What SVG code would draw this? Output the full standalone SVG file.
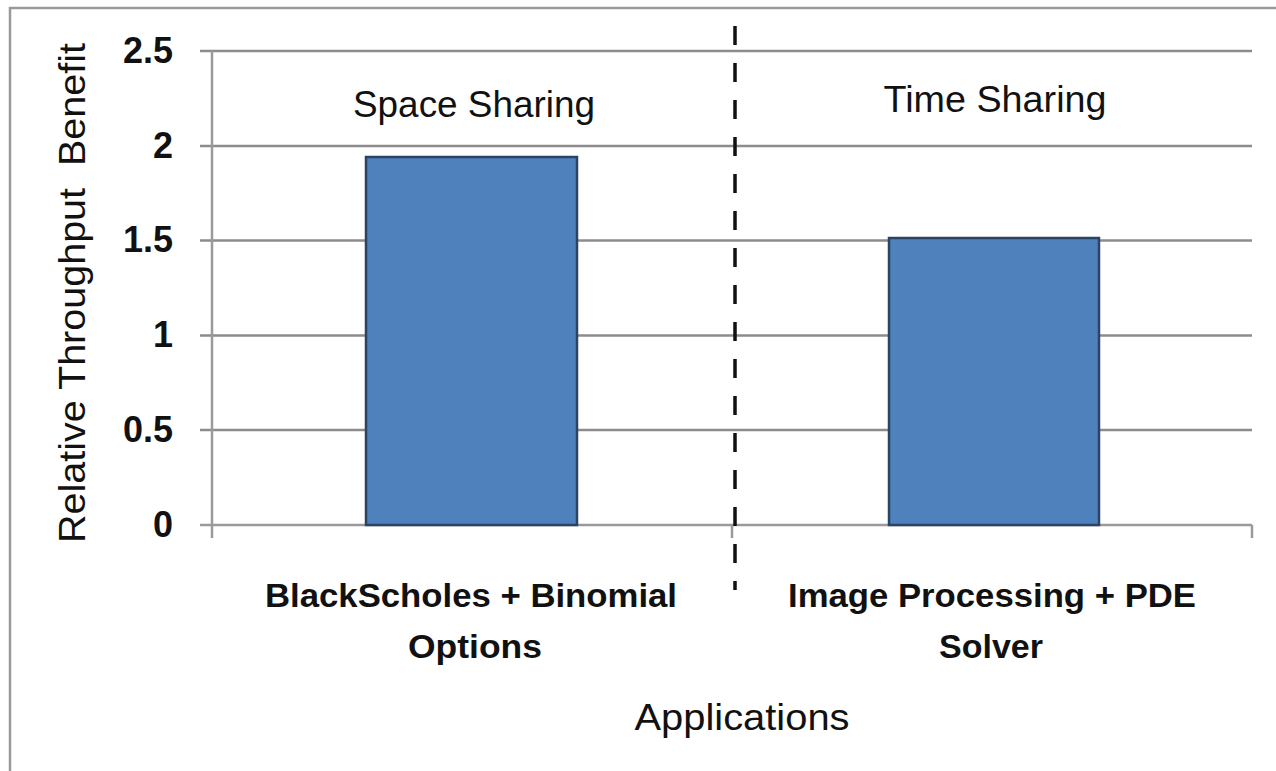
<svg xmlns="http://www.w3.org/2000/svg" width="1276" height="771" viewBox="0 0 1276 771">
<style>
.grid{stroke:#8c8c8c;stroke-width:2.5;fill:none}
.axis{stroke:#9a9a9a;stroke-width:2.5;fill:none}
.bar{fill:#4f81bd;stroke:#2b4466;stroke-width:2.5}
.tick{font-family:"Liberation Sans",Arial,sans-serif;font-weight:bold;font-size:36px;fill:#111;text-anchor:end}
.cat{font-family:"Liberation Sans",Arial,sans-serif;font-weight:bold;font-size:34px;fill:#111;text-anchor:middle}
.lbl{font-family:"Liberation Sans",Arial,sans-serif;font-size:36px;fill:#111;text-anchor:middle}
</style>
<rect width="1276" height="771" fill="#ffffff"/>
<rect x="10" y="8" width="1290" height="800" fill="none" stroke="#9a9a9a" stroke-width="2.5"/>
<g id="gridlines">
<line class="grid" x1="200" y1="51" x2="1252" y2="51"/>
<line class="grid" x1="200" y1="146" x2="1252" y2="146"/>
<line class="grid" x1="200" y1="240.5" x2="1252" y2="240.5"/>
<line class="grid" x1="200" y1="335.5" x2="1252" y2="335.5"/>
<line class="grid" x1="200" y1="430" x2="1252" y2="430"/>
</g>
<g id="axes">
<line class="axis" x1="212" y1="51" x2="212" y2="538"/>
<line class="axis" x1="200" y1="525" x2="1252" y2="525"/>
<line class="axis" x1="1252" y1="525" x2="1252" y2="538"/>
<line class="axis" x1="732" y1="525" x2="732" y2="538"/>
</g>
<g id="ticklabels">
<text class="tick" x="173" y="63">2.5</text>
<text class="tick" x="173" y="158">2</text>
<text class="tick" x="173" y="252">1.5</text>
<text class="tick" x="173" y="347">1</text>
<text class="tick" x="173" y="442">0.5</text>
<text class="tick" x="173" y="537">0</text>
</g>
<g id="bar-blackscholes">
<rect class="bar" x="366" y="157" width="211" height="368"/>
</g>
<g id="bar-image">
<rect class="bar" x="889" y="238" width="210" height="287"/>
</g>
<g id="connectors">
<line x1="735" y1="26" x2="735" y2="590" stroke="#111" stroke-width="3.5" stroke-dasharray="19 18"/>
</g>
<g id="label-space">
<text class="lbl" x="474" y="117" textLength="242" lengthAdjust="spacingAndGlyphs">Space Sharing</text>
</g>
<g id="label-time">
<text class="lbl" x="995" y="112" textLength="223" lengthAdjust="spacingAndGlyphs">Time Sharing</text>
</g>
<g id="cat-1">
<text class="cat" x="471" y="607" textLength="412" lengthAdjust="spacingAndGlyphs">BlackScholes + Binomial</text>
<text class="cat" x="475" y="658" textLength="134" lengthAdjust="spacingAndGlyphs">Options</text>
</g>
<g id="cat-2">
<text class="cat" x="992" y="607" textLength="408" lengthAdjust="spacingAndGlyphs">Image Processing + PDE</text>
<text class="cat" x="991" y="658" textLength="104" lengthAdjust="spacingAndGlyphs">Solver</text>
</g>
<g id="xtitle">
<text class="lbl" x="742" y="730" font-size="34" textLength="215" lengthAdjust="spacingAndGlyphs">Applications</text>
</g>
<g id="ytitle">
<text class="lbl" transform="translate(85,293) rotate(-90)" x="0" y="0" textLength="500" lengthAdjust="spacingAndGlyphs" xml:space="preserve">Relative Throughput  Benefit</text>
</g>
</svg>
